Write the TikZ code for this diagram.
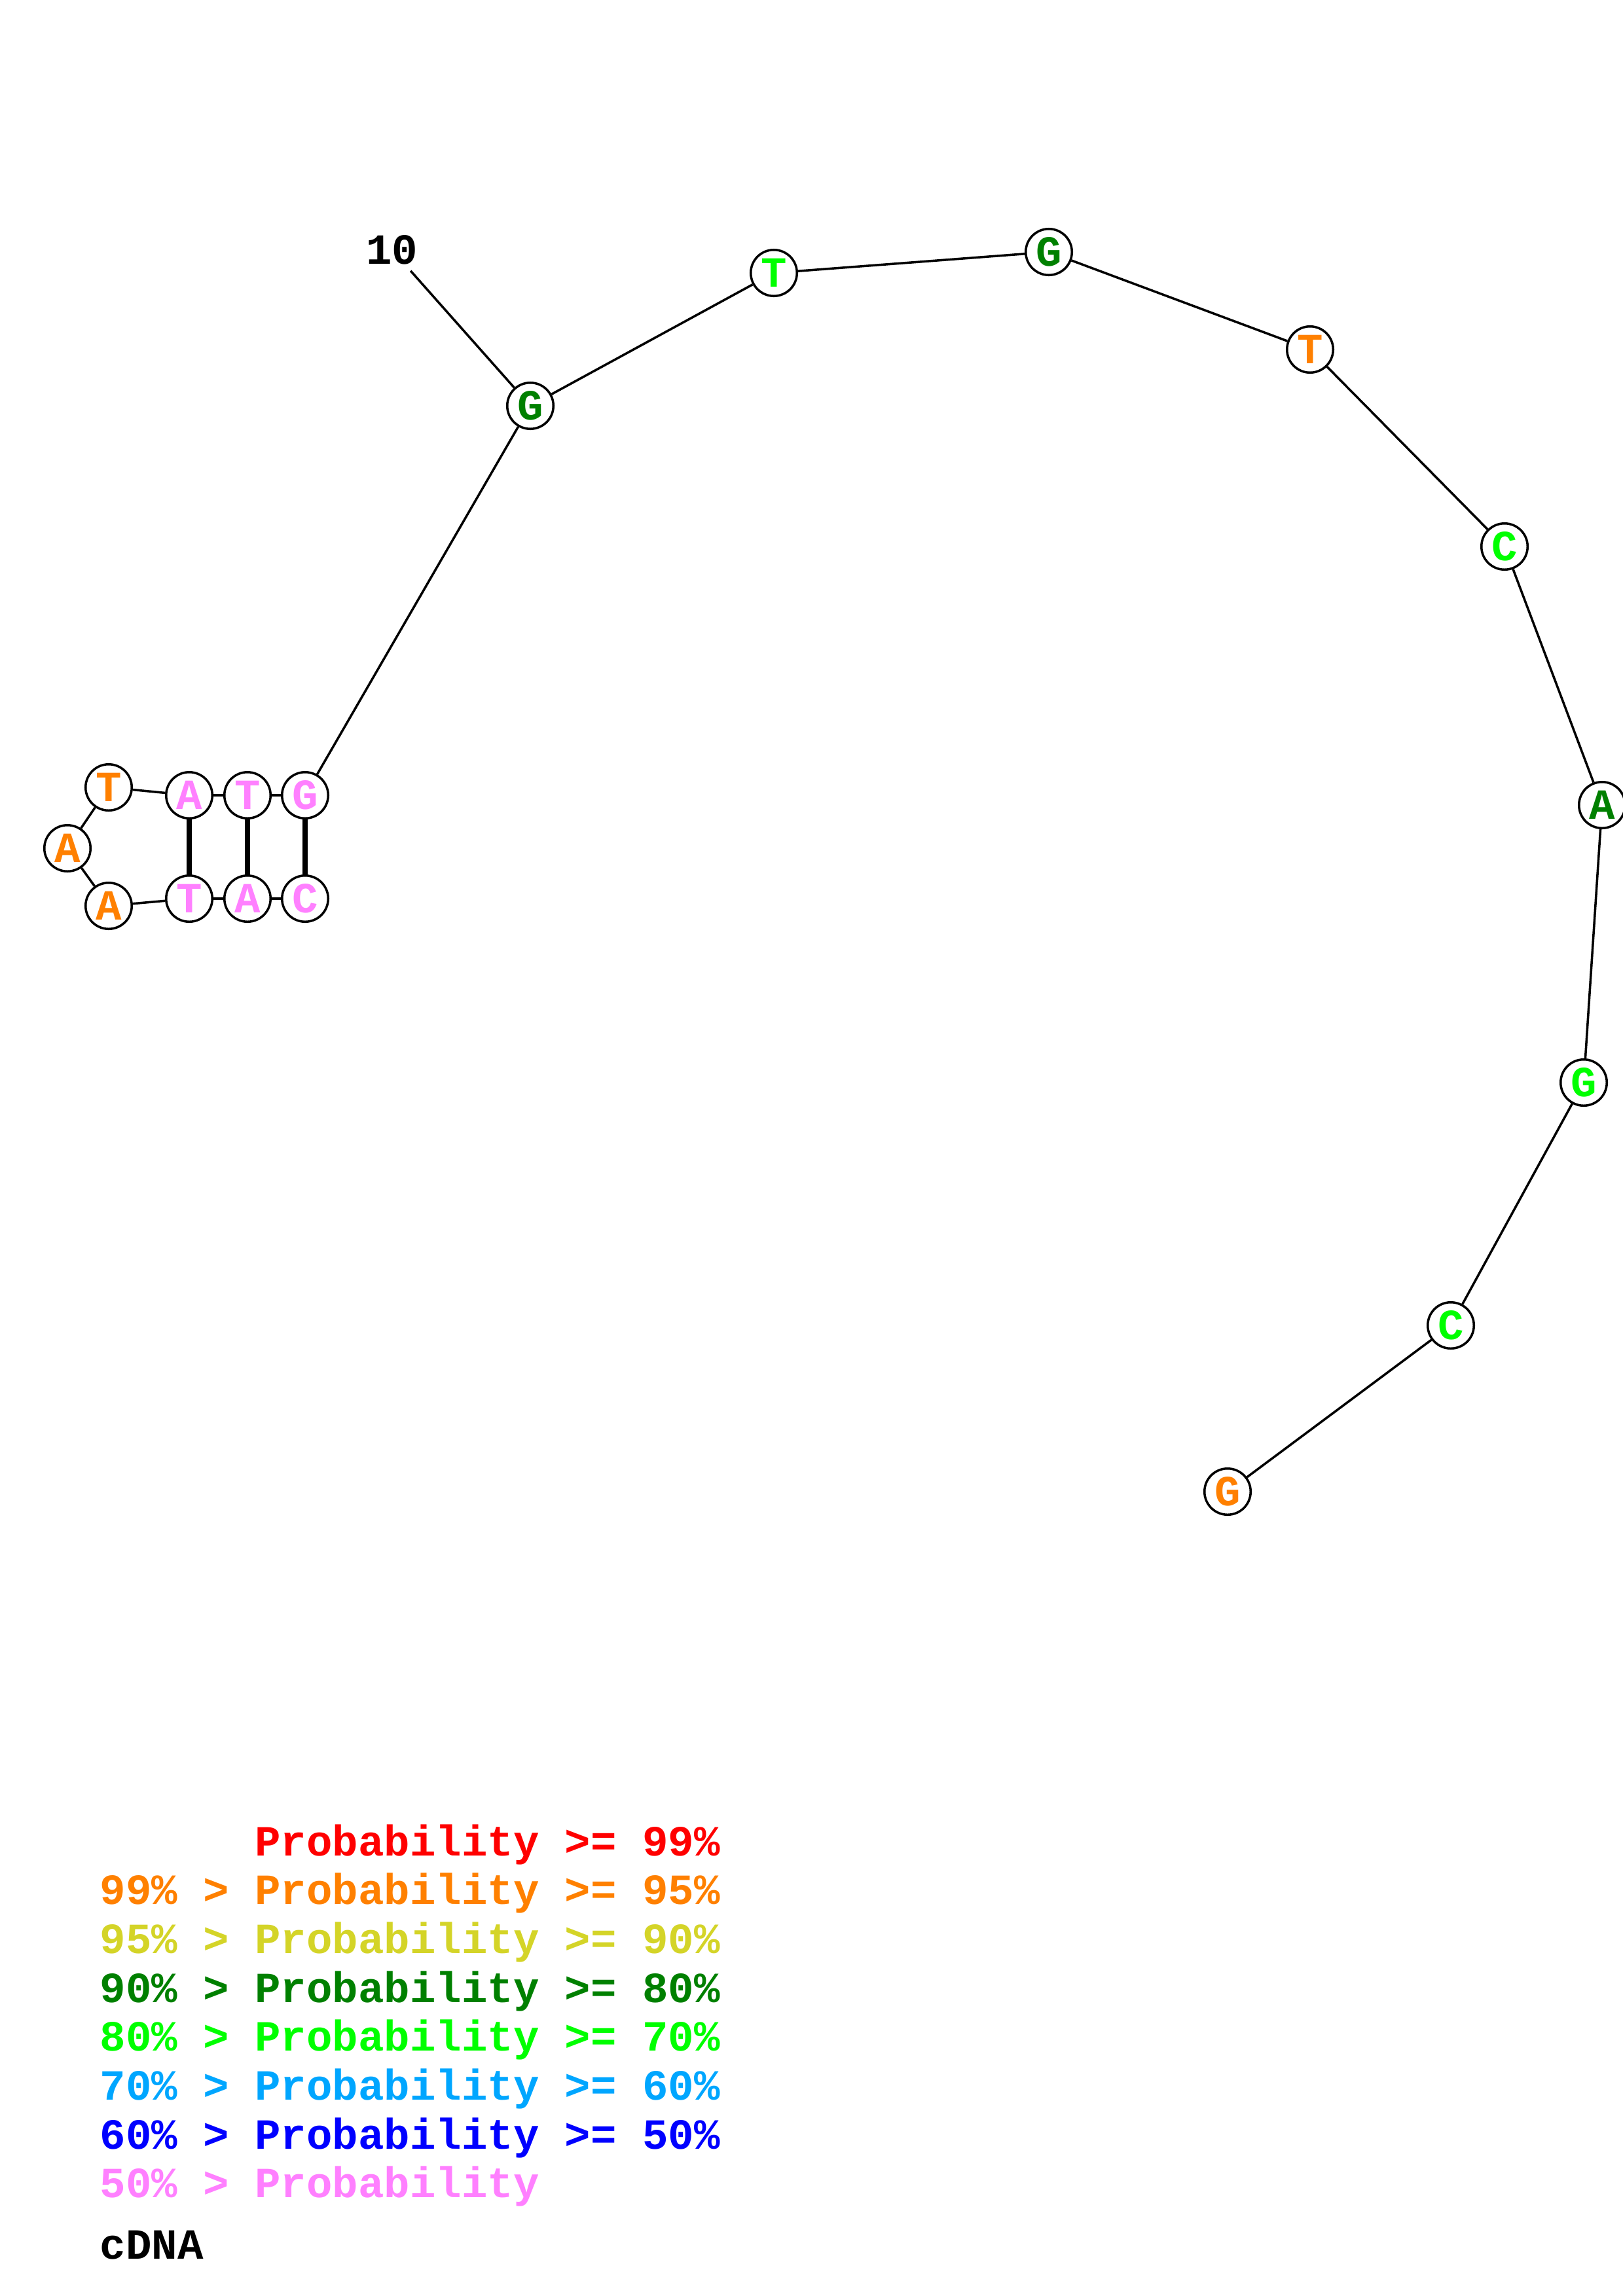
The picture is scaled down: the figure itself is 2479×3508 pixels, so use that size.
\documentclass[tikz,border=0pt]{standalone}
\usepackage{fontspec}
\setmainfont{Liberation Mono}
\usetikzlibrary{calc}
\definecolor{pinkp}{RGB}{255,128,255}
\definecolor{orangep}{RGB}{255,128,0}
\definecolor{yellowp}{RGB}{212,212,40}
\definecolor{dkgreenp}{RGB}{0,128,0}
\definecolor{ltgreenp}{RGB}{0,255,0}
\definecolor{skyp}{RGB}{0,166,255}
\definecolor{bluep}{RGB}{0,0,255}
\definecolor{redp}{RGB}{255,0,0}
\tikzset{
  nt/.style={circle,draw,line width=1pt,fill=white,minimum size=0.705cm,inner sep=0pt,
    font=\bfseries\fontsize{18.7}{19}\selectfont},
  bb/.style={line width=1pt},
  bp/.style={line width=2.2pt},
  leg/.style={anchor=base west,inner sep=0pt,font=\bfseries\fontsize{18.7}{19}\selectfont}
}

\begin{document}
\begin{tikzpicture}[x=0.01cm,y=-0.01cm]
        \useasboundingbox (0,0) rectangle (2479,3508);
        \begin{scope}
          % bases, 5' end first
          \foreach \n/\x/\y/\c/\b in {c1/466/1373/pinkp/C, a2/378/1373/pinkp/A, t3/289/1373/pinkp/T,
              a4/166/1384/orangep/A, a5/103/1296/orangep/A, t6/166/1203/orangep/T,
              a7/289/1215/pinkp/A, t8/378/1215/pinkp/T, g9/466/1215/pinkp/G,
              g10/810/620/dkgreenp/G, t11/1182/417/ltgreenp/T, g12/1602/385/dkgreenp/G,
              t13/2001/534/orangep/T, c14/2298/835/ltgreenp/C, a15/2447/1230/dkgreenp/A,
              g16/2419/1654/ltgreenp/G, c17/2216/2025/ltgreenp/C, g18/1875/2279/orangep/G}
            \node[nt,text=\c] (\n) at (\x,\y) {\b};

          \foreach \a/\b in {c1/a2,a2/t3,t3/a4,a4/a5,a5/t6,t6/a7,a7/t8,t8/g9,g9/g10,
              g10/t11,t11/g12,g12/t13,t13/c14,c14/a15,a15/g16,g16/c17,c17/g18}
            \draw[bb] (\a) -- (\b);

          \foreach \a/\b in {a7/t3,t8/a2,g9/c1}
            \draw[bp] (\a) -- (\b);

          \node[font=\bfseries\fontsize{18.7}{19}\selectfont,inner sep=2.5pt] (n10) at (599,382) {10};
          \draw[bb] (n10) -- (g10);
        \end{scope}
        \begin{scope}
          \foreach \c/\t [count=\i from 0] in {redp/\phantom{99\% > }Probability >= 99\%,
              orangep/99\% > Probability >= 95\%, yellowp/95\% > Probability >= 90\%,
              dkgreenp/90\% > Probability >= 80\%, ltgreenp/80\% > Probability >= 70\%,
              skyp/70\% > Probability >= 60\%, bluep/60\% > Probability >= 50\%,
              pinkp/50\% > Probability}
            \node[leg,text=\c] (leg\i) at (152,2835+74.7*\i) {\t};
          \node[leg] (kind) at (152,3451) {cDNA};
        \end{scope}
\end{tikzpicture}
\end{document}
